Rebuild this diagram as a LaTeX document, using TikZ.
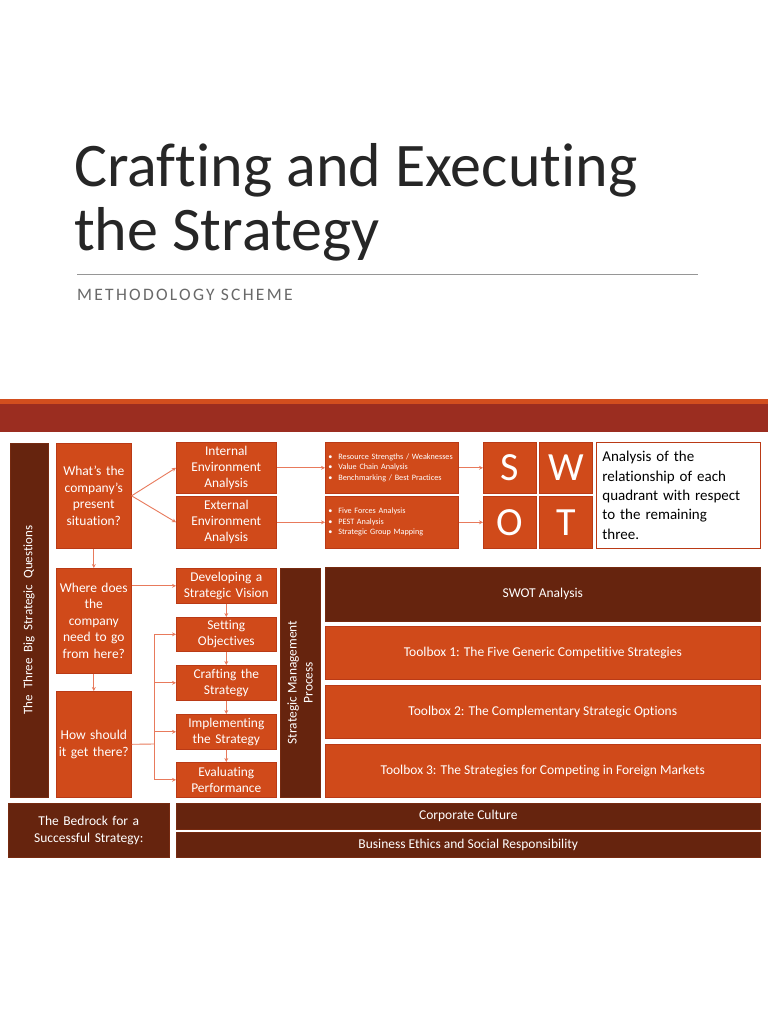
\documentclass[tikz,border=0pt]{standalone}
\usepackage{fontspec}
\setmainfont{Carlito}[Ligatures=NoCommon]
\usetikzlibrary{arrows.meta}
\definecolor{org}{RGB}{208,74,26}
\definecolor{brn}{RGB}{102,36,14}
\definecolor{bandred}{RGB}{155,45,32}
\definecolor{bandtop}{RGB}{210,78,30}
\definecolor{lnk}{RGB}{232,122,92}
\definecolor{edgec}{RGB}{186,58,22}
\definecolor{ttl}{RGB}{38,38,38}
\definecolor{subc}{RGB}{105,105,105}
\definecolor{rulec}{RGB}{150,150,150}
\begin{document}
\begin{tikzpicture}[x=1pt,y=-1pt,
  ob/.style={draw=edgec, line width=0.6pt, fill=org, text=white, align=center, inner sep=2pt, anchor=north west},
  bb/.style={ob, fill=brn, draw=brn!85!org},
  qtext/.style={font=\fontsize{13.5}{16.5}\selectfont},
  stext/.style={font=\fontsize{13.4}{16}\selectfont},
  btext/.style={font=\fontsize{13.5}{17}\selectfont},
  lk/.style={draw=lnk, line width=0.9pt, -{Stealth[length=4pt,width=4pt]}},
  ln/.style={draw=lnk, line width=0.9pt},
]
\useasboundingbox (0,0) rectangle (768,1024);
\fill[white] (0,0) rectangle (768,1024);

% Title
\node[anchor=base west, inner sep=0, text=ttl, font=\fontsize{62}{62}\selectfont] (t1) at (74,187) {Crafting and Executing};
\node[anchor=base west, inner sep=0, text=ttl, font=\fontsize{62}{62}\selectfont] (t2) at (74,250) {the Strategy};
\coordinate (r1) at (77,274);
\coordinate (r2) at (698,274);
\draw[rulec, line width=0.9pt] (r1) -- (r2);
\node[anchor=base west, inner sep=0, text=subc, font=\fontsize{17.5}{17.5}\selectfont\addfontfeatures{LetterSpace=13}] (sub) at (77,300) {METHODOLOGY SCHEME};

% Band
\fill[bandtop] (0,399) rectangle (768,404);
\fill[bandred] (0,404) rectangle (768,432);

% Left vertical bar
\node[bb, anchor=center, rotate=90, minimum width=354, minimum height=38, font=\fontsize{13}{16}\selectfont] (three) at (29,620) {The\ \ Three\ \ Big\ \ Strategic\ \ Questions};

% Questions
\node[ob, qtext, minimum width=75, minimum height=105, text width=71] (q1) at (56,443) {What’s the\\company’s\\present\\situation?};
\node[ob, qtext, minimum width=75, minimum height=105, text width=71] (q2) at (56,568) {Where does\\the\\company\\need to go\\from here?};
\node[ob, qtext, minimum width=75, minimum height=106, text width=71] (q3) at (56,691) {How should\\it get there?};

% Environment analysis
\node[ob, stext, minimum width=100, minimum height=51, text width=96] (int) at (176,442) {Internal\\Environment\\Analysis};
\node[ob, stext, minimum width=100, minimum height=52, text width=96] (ext) at (176,496) {External\\Environment\\Analysis};

% Bullet boxes
\node[ob, font=\fontsize{8.2}{10.5}\selectfont, align=left, minimum width=133, minimum height=51, text width=127] (b1) at (325,442)
  {\textbullet\hspace{6pt}Resource Strengths / Weaknesses\\\textbullet\hspace{6pt}Value Chain Analysis\\\textbullet\hspace{6pt}Benchmarking / Best Practices};
\node[ob, font=\fontsize{8.2}{10.5}\selectfont, align=left, minimum width=133, minimum height=52, text width=127] (b2) at (325,496)
  {\textbullet\hspace{6pt}Five Forces Analysis\\\textbullet\hspace{6pt}PEST Analysis\\\textbullet\hspace{6pt}Strategic Group Mapping};

% SWOT
\tikzset{sw/.style={ob, font=\fontsize{40}{40}\selectfont, minimum width=53, minimum height=51}}
\node[sw] (S) at (483,442) {S};
\node[sw] (W) at (539,442) {W};
\node[sw, minimum height=52] (O) at (483,496) {O};
\node[sw, minimum height=52] (T) at (539,496) {T};
\node[draw=edgec, line width=0.8pt, fill=white, text=black, anchor=north west, align=left, inner sep=6pt,
  minimum width=164, minimum height=106, text width=152, font=\fontsize{15}{19.3}\selectfont] (note) at (596,442)
  {Analysis of the\\relationship of each\\quadrant with respect\\to the remaining\\three.};

% Process steps
\node[ob, stext, minimum width=100, minimum height=35, text width=96] (dev) at (176,568) {Developing a\\Strategic Vision};
\node[ob, stext, minimum width=100, minimum height=34, text width=96] (set) at (176,617) {Setting\\Objectives};
\node[ob, stext, minimum width=100, minimum height=35, text width=96] (cra) at (176,665) {Crafting the\\Strategy};
\node[ob, stext, minimum width=100, minimum height=35, text width=96] (imp) at (176,714) {Implementing\\the Strategy};
\node[ob, stext, minimum width=100, minimum height=35, text width=96] (eva) at (176,762) {Evaluating\\Performance};

% Strategic Management Process bar
\node[bb, anchor=center, rotate=90, minimum width=229, minimum height=40, stext] (smp) at (300,682.5) {Strategic Management\\Process};

% Right bars
\node[bb, btext, minimum width=435, minimum height=54] (swa) at (325,567) {SWOT Analysis};
\node[ob, btext, minimum width=435, minimum height=53] (tb1) at (325,626) {Toolbox 1: The Five Generic Competitive Strategies};
\node[ob, btext, minimum width=435, minimum height=53] (tb2) at (325,685) {Toolbox 2: The Complementary Strategic Options};
\node[ob, btext, minimum width=435, minimum height=53] (tb3) at (325,744) {Toolbox 3: The Strategies for Competing in Foreign Markets};

% Bottom
\node[bb, btext, minimum width=161, minimum height=54, text width=155] (bed) at (8,803) {The Bedrock for a\\Successful Strategy:};
\node[bb, btext, minimum width=584, minimum height=26] (cc) at (176,803) {Corporate Culture};
\node[bb, btext, minimum width=584, minimum height=25] (be) at (176,832) {Business Ethics and Social Responsibility};

% Connectors
\draw[lk] (q1.east) -- (int.west);
\draw[lk] (q1.east) -- (ext.west);
\draw[lk] (int.east) -- (b1.west);
\draw[lk] (ext.east) -- (b2.west);
\draw[lk] (b1.east) -- (S.west);
\draw[lk] (b2.east) -- (O.west);
\draw[lk] (q1.south) -- (q2.north);
\draw[lk] (q2.south) -- (q3.north);
\draw[lk] (q2.east |- dev.west) -- (dev.west);
\draw[lk] (dev.south) -- (set.north);
\draw[lk] (set.south) -- (cra.north);
\draw[lk] (cra.south) -- (imp.north);
\draw[lk] (imp.south) -- (eva.north);
\coordinate (jx) at (154,744);
\draw[ln] (q3.east) -- (jx);
\draw[ln] (jx |- set.west) -- (jx |- eva.west);
\draw[lk] (jx |- set.west) -- (set.west);
\draw[lk] (jx |- cra.west) -- (cra.west);
\draw[lk] (jx |- imp.west) -- (imp.west);
\draw[lk] (jx |- eva.west) -- (eva.west);
\end{tikzpicture}
\end{document}
